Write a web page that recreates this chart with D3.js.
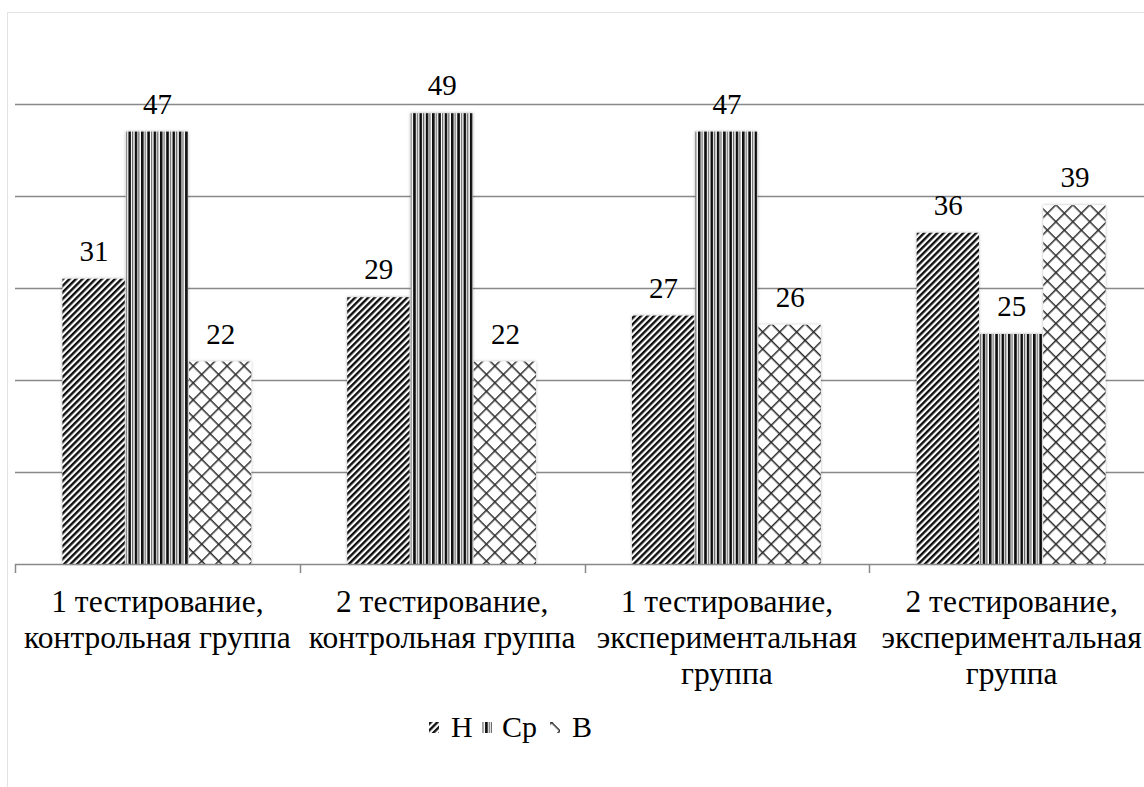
<!DOCTYPE html>
<html>
<head>
<meta charset="utf-8">
<script src="https://cdn.jsdelivr.net/npm/d3@7"></script>
<style>
  html, body { margin: 0; padding: 0; background: #fff; }
</style>
</head>
<body>
<svg id="chart" width="1144" height="787"></svg>
<script>
// ---- data ----
const categories = [
  ["1 тестирование,", "контрольная группа"],
  ["2 тестирование,", "контрольная группа"],
  ["1 тестирование,", "экспериментальная", "группа"],
  ["2 тестирование,", "экспериментальная", "группа"]
];
const seriesNames = ["Н", "Ср", "В"];
const valuesH  = [31, 29, 27, 36];
const valuesCp = [47, 49, 47, 25];
const valuesB  = [22, 22, 26, 39];
const yTicks = [10, 20, 30, 40, 50];

const seriesValues = [valuesH, valuesCp, valuesB];
const patternIds = ["patH", "patCp", "patB"];
const FONT = "'Liberation Serif', 'Times New Roman', Times, Tinos, 'DejaVu Serif', serif";

const svg = d3.select("#chart");
const W = 1144, H = 787;

// ---- defs: patterns & shadow ----
const defs = svg.append("defs");
const f = defs.append("filter").attr("id", "shadow").attr("x", "-10%").attr("y", "-10%").attr("width", "120%").attr("height", "120%");
f.append("feDropShadow").attr("dx", 0).attr("dy", 0).attr("stdDeviation", 1.6)
  .attr("flood-color", "#000").attr("flood-opacity", 0.3);

const pH = defs.append("pattern").attr("id", "patH").attr("patternUnits", "userSpaceOnUse")
  .attr("width", 4.6).attr("height", 4.6).attr("patternTransform", "rotate(45)");
pH.append("rect").attr("width", 4.6).attr("height", 4.6).attr("fill", "#fff");
pH.append("rect").attr("x", 0).attr("width", 2.4).attr("height", 4.6).attr("fill", "#111");

const pC = defs.append("pattern").attr("id", "patCp").attr("patternUnits", "userSpaceOnUse")
  .attr("width", 6.3).attr("height", 10);
pC.append("rect").attr("width", 6.3).attr("height", 10).attr("fill", "#fff");
pC.append("rect").attr("x", 0).attr("width", 2.6).attr("height", 10).attr("fill", "#111");
pC.append("rect").attr("x", 3.7).attr("width", 1.1).attr("height", 10).attr("fill", "#555");

const pB = defs.append("pattern").attr("id", "patB").attr("patternUnits", "userSpaceOnUse")
  .attr("width", 12).attr("height", 12).attr("patternTransform", "rotate(45)");
pB.append("rect").attr("width", 12).attr("height", 12).attr("fill", "#fff");
pB.append("rect").attr("x", 0).attr("width", 1.5).attr("height", 12).attr("fill", "#2a2a2a");
pB.append("rect").attr("y", 0).attr("width", 12).attr("height", 1.5).attr("fill", "#2a2a2a");

// ---- frame ----
svg.append("rect").attr("x", 7.5).attr("y", 12.5).attr("width", 1300).attr("height", 900)
  .attr("fill", "none").attr("stroke", "#e3e3e3").attr("stroke-width", 1);

// ---- scales ----
const x = d3.scaleBand().domain(d3.range(categories.length)).range([15, 1154]).paddingInner(0).paddingOuter(0);
const xs = d3.scaleBand().domain(d3.range(seriesNames.length)).range([0, x.bandwidth()]).paddingInner(0).paddingOuter(0.75);
const y = d3.scaleLinear().domain([0, 60]).range([564, 12]);

// ---- gridlines ----
svg.append("g").selectAll("line").data(yTicks).join("line")
  .attr("x1", 15).attr("x2", W)
  .attr("y1", d => Math.round(y(d)) + 0.5).attr("y2", d => Math.round(y(d)) + 0.5)
  .attr("stroke", "#898989").attr("stroke-width", 1.5);

// ---- bars ----
const groups = svg.append("g").selectAll("g").data(categories).join("g")
  .attr("transform", (d, i) => `translate(${x(i)},0)`);

groups.each(function(cat, ci) {
  const g = d3.select(this);
  seriesValues.forEach((vals, si) => {
    const v = vals[ci];
    g.append("rect")
      .attr("x", xs(si)).attr("width", xs.bandwidth() - 1)
      .attr("y", y(v)).attr("height", y(0) - y(v))
      .attr("fill", `url(#${patternIds[si]})`)
      .attr("filter", "url(#shadow)");
    g.append("text")
      .attr("x", xs(si) + xs.bandwidth() / 2)
      .attr("y", y(v) - 18)
      .attr("text-anchor", "middle")
      .style("font-family", FONT)
      .attr("font-size", 29).attr("fill", "#000")
      .text(v);
  });
});

// ---- x axis ----
const axis = svg.append("g");
axis.append("line").attr("x1", 15).attr("x2", W).attr("y1", 564.5).attr("y2", 564.5)
  .attr("stroke", "#898989").attr("stroke-width", 1.5);
axis.selectAll("line.tick").data(d3.range(categories.length + 1)).join("line").attr("class", "tick")
  .attr("x1", i => Math.round(x.step() * i + 15) + 0.5).attr("x2", i => Math.round(x.step() * i + 15) + 0.5)
  .attr("y1", 564).attr("y2", 573)
  .attr("stroke", "#898989").attr("stroke-width", 1.5);

const labels = axis.selectAll("text.cat").data(categories).join("text").attr("class", "cat")
  .attr("text-anchor", "middle").style("font-family", FONT).attr("font-size", 31.5).attr("fill", "#000");
labels.each(function(lines, i) {
  const t = d3.select(this);
  lines.forEach((ln, k) => {
    t.append("tspan").attr("x", x(i) + x.bandwidth() / 2).attr("y", 612 + k * 36).text(ln);
  });
});

// ---- legend ----
const legendItems = [
  { name: seriesNames[0], pat: patternIds[0], mx: 429, tx: 451 },
  { name: seriesNames[1], pat: patternIds[1], mx: 482, tx: 502 },
  { name: seriesNames[2], pat: patternIds[2], mx: 550, tx: 572 }
];
const leg = svg.append("g");
legendItems.forEach(it => {
  leg.append("rect").attr("x", it.mx).attr("y", 722).attr("width", 10).attr("height", 11)
    .attr("fill", `url(#${it.pat})`);
  leg.append("text").attr("x", it.tx).attr("y", 737).style("font-family", FONT)
    .attr("font-size", 30).attr("fill", "#000").text(it.name);
});
</script>
</body>
</html>
